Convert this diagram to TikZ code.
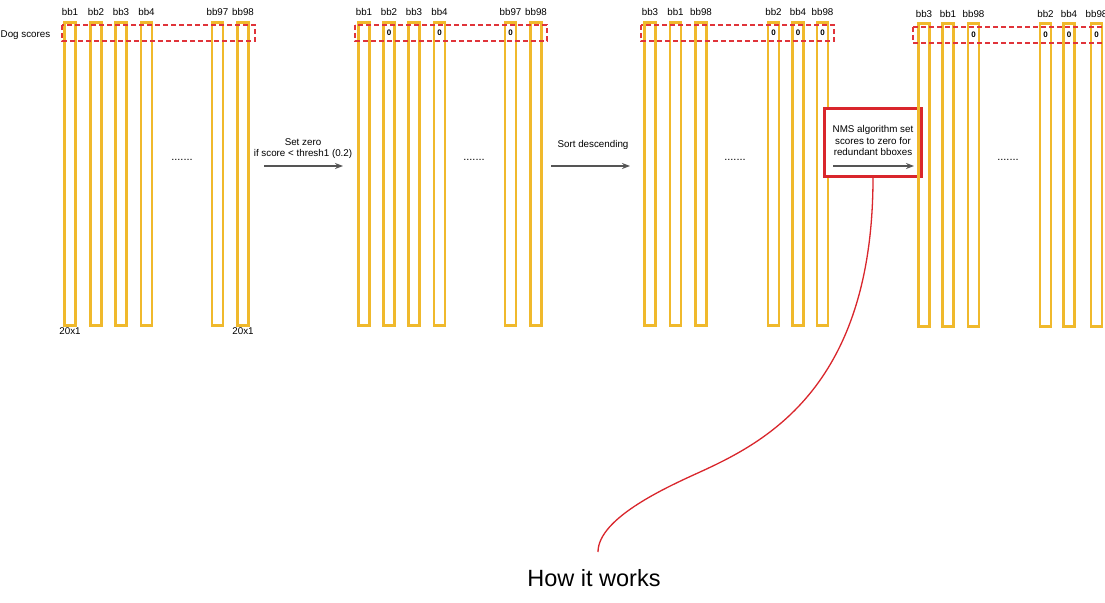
\documentclass[tikz,border=0pt]{standalone}
\usepackage{fontspec}
\setmainfont{Liberation Sans}
\usetikzlibrary{arrows.meta}
\definecolor{barcol}{HTML}{F0B92C}
\definecolor{dashred}{HTML}{E0343A}
\definecolor{boxred}{HTML}{D9262C}
\definecolor{arrgray}{HTML}{555555}
\begin{document}
\begin{tikzpicture}[x=1pt,y=-1pt,
  bar/.style={draw=barcol,line width=2.4pt,minimum width=11pt,minimum height=303pt,inner sep=0pt},
  lbl/.style={font=\fontsize{9.8}{11}\selectfont,inner sep=0pt},
  zero/.style={font=\fontsize{8}{9}\selectfont\bfseries,inner sep=0pt},
  dots/.style={font=\fontsize{11}{12}\selectfont,inner sep=0pt},
  txt/.style={font=\fontsize{9.8}{11.8}\selectfont,inner sep=0pt,align=center},
  dbox/.style={draw=dashred,dashed,line width=1.4pt,dash pattern=on 5pt off 3pt},
  flow/.style={draw=arrgray,line width=1.4pt,-{Stealth[length=8pt,width=6pt]}}]
\useasboundingbox (0,0) rectangle (1105,602);
\fill[white] (0,0) rectangle (1105,602);

% ---------- group 1 ----------
\foreach \x/\t [count=\i] in {70/bb1,96/bb2,121/bb3,146.5/bb4,217.5/bb97,243/bb98}{
  \node[bar] (ga\i) at (\x,174) {};
  \node[lbl] (gal\i) at (\x,12) {\t};
}
\draw[dbox] (62,25) rectangle (255,41);
\node[lbl,anchor=west] (dog) at (0.5,35) {Dog scores};
\node[lbl] (dim1) at (70,331) {20x1};
\node[lbl] (dim2) at (243,331) {20x1};
\node[dots] (dA) at (182,160) {.......};

% arrow 1
\node[txt] (t1a) at (303,142) {Set zero};
\node[txt] (t1b) at (303,154) {if score < thresh1 (0.2)};
\coordinate (a1s) at (264,166);
\coordinate (a1e) at (343,166);
\draw[flow] (a1s) -- (a1e);

% ---------- group 2 ----------
\foreach \x/\t [count=\i] in {364/bb1,389/bb2,414/bb3,439.5/bb4,510.5/bb97,536/bb98}{
  \node[bar] (gb\i) at (\x,174) {};
  \node[lbl] (gbl\i) at (\x,12) {\t};
}
\draw[dbox] (355,25) rectangle (547,41);
\foreach \i in {2,4,5}{ \node[zero] (gbz\i) at (gb\i.center |- 0,33) {0}; }
\node[dots] (dB) at (474,160) {.......};

% arrow 2
\node[txt] (t2) at (593,145) {Sort descending};
\coordinate (a2s) at (551,166);
\coordinate (a2e) at (630,166);
\draw[flow] (a2s) -- (a2e);

% ---------- group 3 ----------
\foreach \x/\t [count=\i] in {650/bb3,675.5/bb1,701/bb98,773.5/bb2,798/bb4,822.5/bb98}{
  \node[bar] (gc\i) at (\x,174) {};
  \node[lbl] (gcl\i) at (\x,12) {\t};
}
\draw[dbox] (641,25) rectangle (834,41);
\foreach \i in {4,5,6}{ \node[zero] (gcz\i) at (gc\i.center |- 0,33) {0}; }
\node[dots] (dC) at (735,160) {.......};

% NMS box + arrow 3
\node[draw=boxred,line width=2.2pt,minimum width=97pt,minimum height=68pt,inner sep=0pt,fill=white] (nms) at (873,142.5) {};
\node[txt] (t3) at (873,140.5) {NMS algorithm set\\scores to zero for\\redundant bboxes};
\coordinate (a3s) at (833,166);
\coordinate (a3e) at (914,166);
\draw[flow] (a3s) -- (a3e);

% ---------- group 4 ----------
\foreach \x/\t [count=\i] in {924/bb3,948/bb1,973.5/bb98,1045.5/bb2,1069/bb4,1096.5/bb98}{
  \node[bar] (gd\i) at (\x,175) {};
  \node[lbl] (gdl\i) at (\x,14) {\t};
}
\draw[dbox] (913,27) -- (1110,27);
\draw[dbox] (913,43) -- (1110,43);
\draw[dbox] (913,27) -- (913,43);
\foreach \i in {3,4,5,6}{ \node[zero] (gdz\i) at (gd\i.center |- 0,35) {0}; }
\node[dots] (dD) at (1008,160) {.......};

% ---------- callout ----------
\node[font=\fontsize{23.5}{26}\selectfont,inner sep=0pt] (how) at (594,578) {How it works};
\coordinate (cend) at (598,552);
\draw[boxred,line width=1.3pt] (nms.south) .. controls (873,385) and (768,441) .. (700,472)
  .. controls (667,487) and (598,518) .. (cend);
\end{tikzpicture}
\end{document}
